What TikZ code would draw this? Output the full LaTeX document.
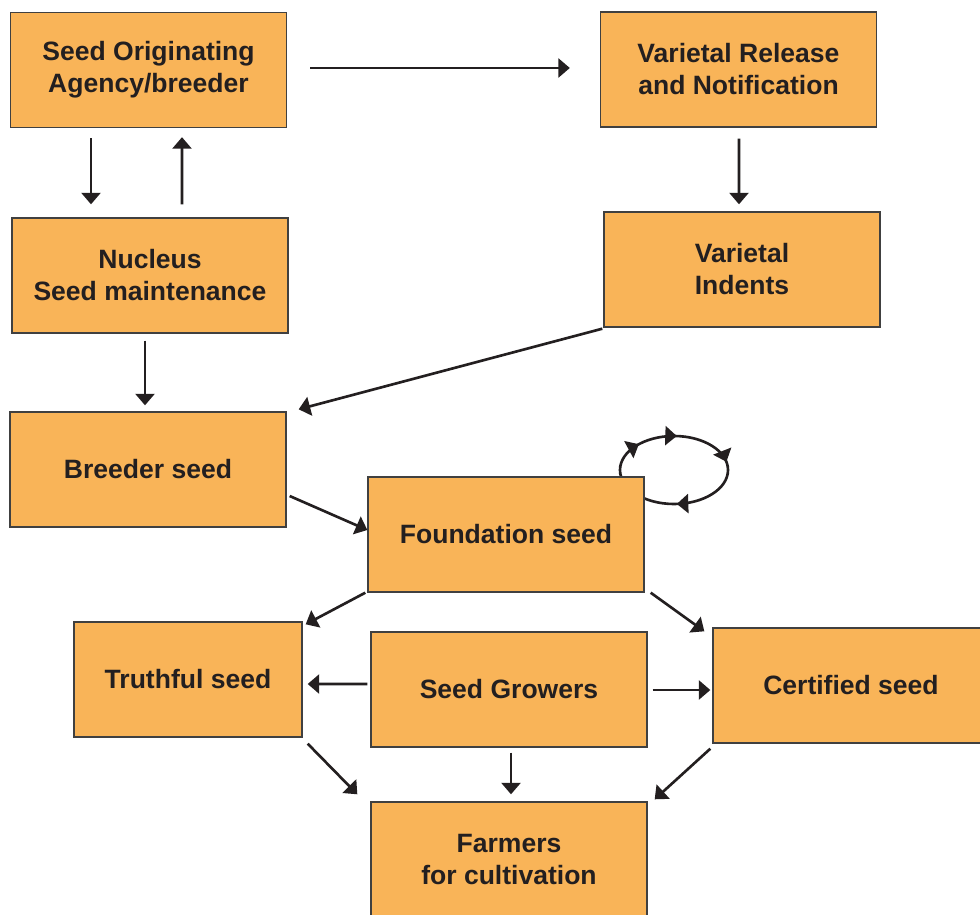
\documentclass[tikz,border=0pt]{standalone}
\usepackage{fontspec}
\setmainfont{Liberation Sans}
\usetikzlibrary{calc,arrows.meta,backgrounds,decorations.markings}
\definecolor{boxfill}{HTML}{F9B458}
\definecolor{inkdark}{HTML}{231F20}
\tikzset{
  stage/.style={draw=black!75, line width=0.8pt, fill=boxfill, text=inkdark,
    minimum width=5.52cm, minimum height=2.3cm, align=center, inner sep=0pt,
    font=\fontsize{15.1}{18.2}\selectfont\bfseries},
  tip/.style={Triangle[length=2.3mm,width=3.8mm]},
  flow/.style={draw=inkdark, line width=1.5pt, -{Triangle[length=2.3mm,width=3.8mm]}},
  loopmark/.style={postaction={decorate}, decoration={markings,
    mark=at position 0.24 with {\arrow{Triangle[length=2.3mm,width=3.8mm]}},
    mark=at position 0.62 with {\arrow{Triangle[length=2.3mm,width=3.8mm]}},
    mark=at position 0.76 with {\arrow{Triangle[length=2.3mm,width=3.8mm]}},
    mark=at position 0.97 with {\arrow{Triangle[length=2.3mm,width=3.8mm]}}}}
}
\begin{document}
\begin{tikzpicture}[x=0.02cm, y=-0.02cm]
  \useasboundingbox (0,0) rectangle (980,915);

  % boxes
  \node[stage] (origin) at (148.5,70) {Seed Originating\\Agency/breeder};
  \node[stage] (release) at (738.5,69.5) {Varietal Release\\and Notification};
  \node[stage] (nucleus) at (150,275.5) {Nucleus\\Seed maintenance};
  \node[stage] (indents) at (742,269.5) {Varietal\\Indents};
  \node[stage] (breeder) at (148,469.5) {Breeder seed};
  \node[stage] (foundation) at (506,534.5) {Foundation seed};
  \node[stage, minimum width=4.56cm] (truthful) at (188,679.5) {Truthful seed};
  \node[stage] (growers) at (509,689.5) {Seed Growers};
  \node[stage] (certified) at (851,685.5) {Certified seed};
  \node[stage] (farmers) at (509,859.5) {Farmers\\for cultivation};

  % repeated multiplication loop
  \begin{scope}[on background layer]
    \draw[draw=inkdark, line width=1.5pt, loopmark] (674,470) ellipse [x radius=54, y radius=34];
  \end{scope}

  % connectors
  \draw[flow] ($(origin.east)+(23,-2)$) -- ($(release.west)+(-30,-1.5)$);
  \draw[flow] ($(origin.south)+(-57.5,10)$) -- ($(nucleus.north)+(-59,-13)$);
  \draw[flow] ($(nucleus.north)+(32,-13)$) -- ($(origin.south)+(33.5,9)$);
  \draw[flow] ($(nucleus.south)+(-5,7)$) -- ($(breeder.north)+(-3,-6)$);
  \draw[flow] ($(release.south)+(0.5,11)$) -- ($(indents.north)+(-3,-7)$);
  \draw[flow] ($(indents.south west)+(-1,1)$) -- ($(breeder.north east)+(12,-2)$);
  \draw[flow] ($(breeder.east)+(3,26.5)$) -- ($(foundation.west)+(0,-4.5)$);
  \draw[flow] ($(foundation.south west)+(-2,0)$) -- ($(truthful.north east)+(3,3)$);
  \draw[flow] ($(foundation.south east)+(6,0)$) -- ($(certified.north west)+(-8,4)$);
  \draw[flow] ($(growers.west)+(-3,-5.5)$) -- ($(truthful.east)+(5,4.5)$);
  \draw[flow] ($(growers.east)+(5,0.5)$) -- ($(certified.west)+(-2,4.5)$);
  \draw[flow] ($(truthful.south east)+(5,6)$) -- ($(farmers.north west)+(-13,-7)$);
  \draw[flow] ($(growers.south)+(2,5)$) -- ($(farmers.north)+(2,-7)$);
  \draw[flow] ($(certified.south west)+(-2,5)$) -- ($(farmers.north east)+(7,-2)$);
\end{tikzpicture}
\end{document}
